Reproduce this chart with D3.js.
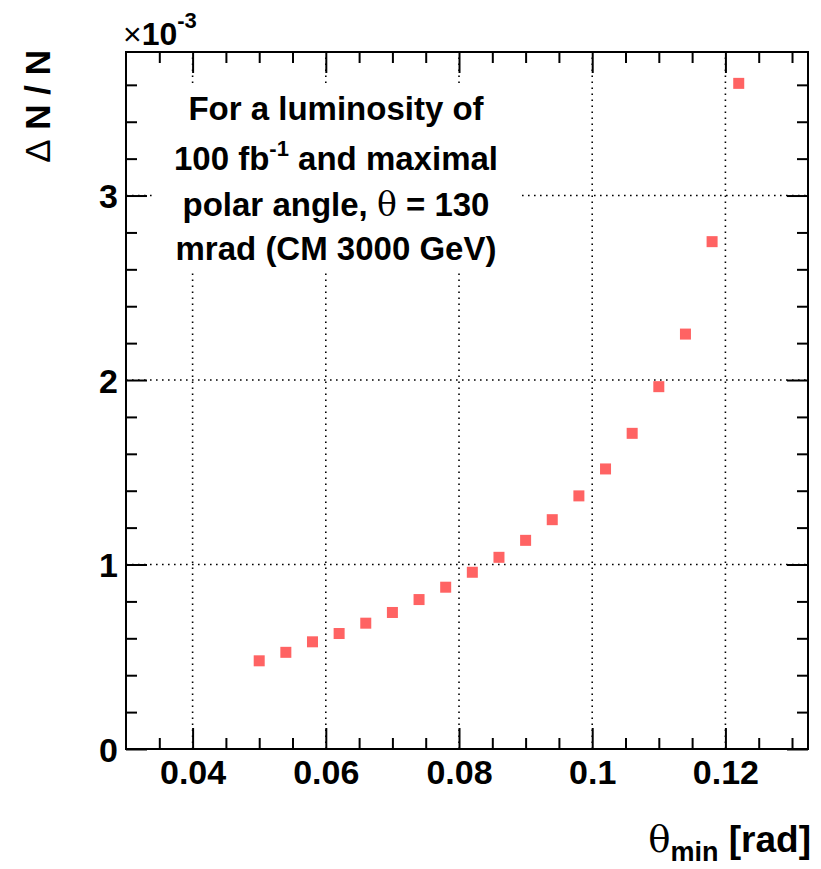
<!DOCTYPE html>
<html>
<head>
<meta charset="utf-8">
<style>
    body { margin: 0; background: #fff; }
    svg { display: block; }
    text { font-family: "Liberation Sans", Arial, Helvetica, sans-serif; font-weight: bold; fill: #000; }
    .axis path { display: none; }
    .axis line { stroke: #000; stroke-width: 2; }
</style>
</head>
<body>
<svg id="chart" width="821" height="869"></svg>
<script src="https://d3js.org/d3.v7.min.js"></script>
<script>
    // theta_min [rad] and Delta N / N (units of 1e-3)
    let thetaMin = [0.050, 0.054, 0.058, 0.062, 0.066, 0.070, 0.074, 0.078, 0.082, 0.086,
                    0.090, 0.094, 0.098, 0.102, 0.106, 0.110, 0.114, 0.118, 0.122];
    let dNoverN = [0.478, 0.524, 0.581, 0.626, 0.682, 0.740, 0.810, 0.877, 0.958, 1.039,
                   1.131, 1.243, 1.372, 1.518, 1.711, 1.964, 2.249, 2.750, 3.608];

    let xMajor = [0.04, 0.06, 0.08, 0.10, 0.12];
    let xLabels = ["0.04", "0.06", "0.08", "0.1", "0.12"];
    let xMinor = [0.035, 0.045, 0.05, 0.055, 0.065, 0.07, 0.075, 0.085, 0.09, 0.095,
                  0.105, 0.11, 0.115, 0.125, 0.13];
    let yMajor = [0, 1, 2, 3];
    let yMinor = [0.2, 0.4, 0.6, 0.8, 1.2, 1.4, 1.6, 1.8, 2.2, 2.4, 2.6, 2.8, 3.2, 3.4, 3.6];

    let pLeft = 126, pRight = 808, pTop = 52, pBottom = 749;
    let svg = d3.select("#chart");

    let x = d3.scaleLinear().domain([0.03, 0.1324]).range([pLeft, pRight]);
    let y = d3.scaleLinear().domain([0, 3.778]).range([pBottom, pTop]);

    // dotted grid at the major ticks
    let grid = svg.append("g").attr("stroke", "#000").attr("stroke-width", 1.6)
        .attr("stroke-dasharray", "1.6,4.4");
    grid.selectAll(".gx").data(xMajor).enter().append("line")
        .attr("x1", (d) => x(d)).attr("x2", (d) => x(d))
        .attr("y1", pBottom).attr("y2", pTop);
    grid.selectAll(".gy").data(yMajor.filter((d) => d > 0)).enter().append("line")
        .attr("y1", (d) => y(d)).attr("y2", (d) => y(d))
        .attr("x1", pLeft).attr("x2", pRight);

    // white box behind the annotation
    svg.append("rect").attr("x", 155).attr("y", 85).attr("width", 367).attr("height", 188)
        .attr("fill", "#fff");

    // ticks on all four sides, pointing inwards
    function ticks(axisFn, scale, values, size, transform, labels) {
        let ax = axisFn(scale).tickValues(values).tickSizeInner(-size).tickSizeOuter(0).tickPadding(10);
        if (labels) ax.tickFormat((d, i) => labels[i]);
        else ax.tickFormat("");
        let g = svg.append("g").attr("class", "axis").attr("transform", transform).call(ax);
        g.selectAll("text").style("font-size", "34px").attr("fill", "#000");
        g.attr("font-family", null).attr("font-size", null);
        return g;
    }
    ticks(d3.axisBottom, x, xMajor, 21, `translate(0,${pBottom})`, xLabels)
        .selectAll("text").attr("dy", "0.71em").attr("y", 11);
    ticks(d3.axisBottom, x, xMinor, 11, `translate(0,${pBottom})`);
    ticks(d3.axisTop, x, xMajor, 21, `translate(0,${pTop})`);
    ticks(d3.axisTop, x, xMinor, 11, `translate(0,${pTop})`);
    ticks(d3.axisLeft, y, yMajor, 21, `translate(${pLeft},0)`, yMajor.map(String))
        .selectAll("text").attr("x", -8).attr("dy", "0.36em");
    ticks(d3.axisLeft, y, yMinor, 11, `translate(${pLeft},0)`);
    ticks(d3.axisRight, y, yMajor, 21, `translate(${pRight},0)`);
    ticks(d3.axisRight, y, yMinor, 11, `translate(${pRight},0)`);

    // frame
    svg.append("rect").attr("x", pLeft).attr("y", pTop).attr("width", pRight - pLeft).attr("height", pBottom - pTop)
        .attr("fill", "none").attr("stroke", "#000").attr("stroke-width", 2);

    // markers
    let pts = thetaMin.map((t, i) => ({ t: t, v: dNoverN[i] }));
    svg.append("g").selectAll("rect").data(pts).enter().append("rect")
        .attr("x", (d) => x(d.t) - 5.5)
        .attr("y", (d) => y(d.v) - 5.5)
        .attr("width", 11).attr("height", 11)
        .attr("fill", "#ff6363");

    // exponent
    let ex = svg.append("text").attr("x", 123).attr("y", 45).style("font-size", "32px");
    ex.append("tspan").text("×").style("font-weight", "normal");
    ex.append("tspan").text("10");
    ex.append("tspan").text("-3").attr("dy", -17).style("font-size", "22px");

    // annotation
    let cx = 336;
    let note = svg.append("g").attr("text-anchor", "middle").style("font-size", "33px");
    note.append("text").attr("x", cx).attr("y", 120).text("For a luminosity of");
    let l2 = note.append("text").attr("x", cx).attr("y", 170);
    l2.append("tspan").text("100 fb");
    l2.append("tspan").text("-1").attr("dy", -14).style("font-size", "22px");
    l2.append("tspan").text(" and maximal").attr("dy", 14);
    let l3 = note.append("text").attr("x", cx).attr("y", 216);
    l3.append("tspan").text("polar angle, ");
    l3.append("tspan").text("θ").style("font-weight", "normal").style("font-family", "DejaVu Serif, serif");
    l3.append("tspan").text(" = 130");
    note.append("text").attr("x", cx).attr("y", 260).text("mrad (CM 3000 GeV)");

    // axis titles
    let xt = svg.append("text").attr("x", 811).attr("y", 852).attr("text-anchor", "end").style("font-size", "37px");
    xt.append("tspan").text("θ").style("font-weight", "normal").style("font-family", "DejaVu Serif, serif");
    xt.append("tspan").text("min").attr("dy", 9).style("font-size", "27px");
    xt.append("tspan").text(" [rad]").attr("dy", -9);

    let yt = svg.append("text").attr("transform", "translate(50,50) rotate(-90)")
        .attr("text-anchor", "end").style("font-size", "35px");
    yt.append("tspan").text("Δ").style("font-weight", "normal");
    yt.append("tspan").text(" N / N");
</script>
</body>
</html>
